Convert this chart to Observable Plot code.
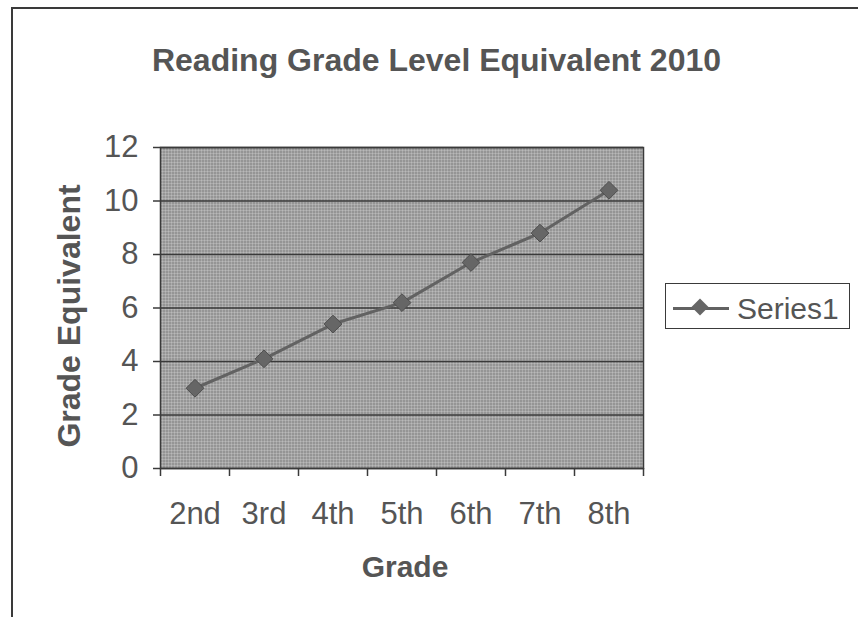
<!DOCTYPE html>
<html>
<head>
<meta charset="utf-8">
<script src="https://cdn.jsdelivr.net/npm/d3@7"></script>
<script src="https://cdn.jsdelivr.net/npm/@observablehq/plot@0.6"></script>
<style>
  html, body { margin: 0; padding: 0; background: #fff; }
  #wrap { position: relative; width: 858px; height: 617px; overflow: hidden; background: #fff;
          font-family: "Liberation Sans", Arial, sans-serif; color: #555; }
  #chart { position: absolute; left: 0; top: 0; }
  .abs { position: absolute; white-space: nowrap; }
</style>
</head>
<body>
<div id="wrap">
  <div class="abs" style="left:11px;top:7px;width:900px;height:700px;border-left:2px solid #3a3a3a;border-top:2px solid #3a3a3a;"></div>
  <div id="chart"></div>
  <div class="abs" id="title" style="left:0;width:873px;top:44px;text-align:center;font-size:32px;line-height:32px;font-weight:bold;">Reading Grade Level Equivalent 2010</div>
  <div class="abs" id="ylabel" style="left:-131px;top:299px;width:400px;height:34px;line-height:34px;text-align:center;font-size:32px;font-weight:bold;transform:rotate(-90deg);">Grade Equivalent</div>
  <div class="abs" id="xlabel" style="left:305px;width:200px;top:552px;text-align:center;font-size:30px;line-height:30px;font-weight:bold;">Grade</div>
  <div class="abs" id="legend" style="left:665px;top:283px;width:185px;height:46px;border:1.5px solid #3a3a3a;box-sizing:border-box;">
    <div class="abs" style="left:7px;top:22.5px;width:56px;height:3px;background:#626262;"></div>
    <div class="abs" style="left:28px;top:17px;width:12px;height:12px;background:#666;transform:rotate(45deg);"></div>
    <div class="abs" id="legtext" style="left:71px;top:10px;font-size:30px;line-height:29px;">Series1</div>
  </div>
</div>
<script>
const grades = ["2nd", "3rd", "4th", "5th", "6th", "7th", "8th"];
const values = [3.0, 4.1, 5.4, 6.2, 7.7, 8.8, 10.4];
const yTicks = [0, 2, 4, 6, 8, 10, 12];
const seriesName = "Series1";

const data = grades.map((g, i) => ({i, grade: g, value: values[i]}));
const boundaries = d3.range(-0.5, grades.length, 1);

const svg = Plot.plot({
  width: 858,
  height: 617,
  marginLeft: 160,
  marginRight: 215,
  marginTop: 147,
  marginBottom: 149,
  style: {fontFamily: "'Liberation Sans', Arial, sans-serif", fontSize: "31px", color: "#555", background: "transparent", overflow: "visible"},
  x: {type: "linear", domain: [-0.5, grades.length - 0.5], label: null},
  y: {domain: [0, 12], label: null},
  marks: [
    Plot.frame({fill: "url(#dots)"}),
    Plot.gridY(yTicks, {stroke: "#3a3a3a", strokeOpacity: 1, strokeWidth: 1.5}),
    Plot.frame({stroke: "#3a3a3a", strokeWidth: 1.5}),
    Plot.axisY(yTicks, {tickSize: 7, tickPadding: 15, stroke: "#3a3a3a", strokeWidth: 1.5, fill: "#555", label: null}),
    Plot.axisX(boundaries, {tickSize: 8, tickFormat: () => "", stroke: "#3a3a3a", strokeWidth: 1.5, label: null}),
    Plot.axisX(d3.range(grades.length), {tickSize: 0, tickPadding: 33, tickFormat: (i) => grades[i], fill: "#555", label: null}),
    Plot.line(data, {x: "i", y: "value", stroke: "#626262", strokeWidth: 3}),
    Plot.dot(data, {x: "i", y: "value", symbol: "diamond2", r: 8, fill: "#666", stroke: "#4e4e4e", strokeWidth: 1})
  ]
});

const defs = document.createElementNS("http://www.w3.org/2000/svg", "defs");
defs.innerHTML = `<pattern id="dots" width="3" height="3" patternUnits="userSpaceOnUse">
  <rect width="3" height="3" fill="#c0c0c0"></rect>
  <circle cx="1.5" cy="1.5" r="1" fill="#666"></circle>
</pattern>`;
svg.insertBefore(defs, svg.firstChild);
document.getElementById("chart").appendChild(svg);
document.getElementById("legtext").textContent = seriesName;
</script>
</body>
</html>
